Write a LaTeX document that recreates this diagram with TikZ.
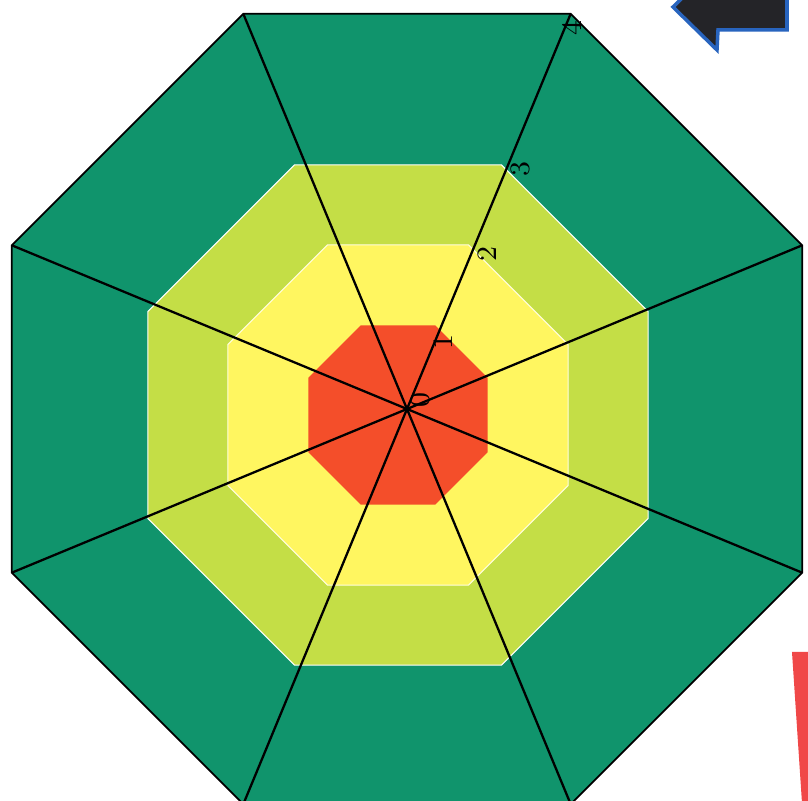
\documentclass[tikz,border=0pt]{standalone}
\usetikzlibrary{shapes.geometric}
\definecolor{deepgreen}{RGB}{16,148,108}
\definecolor{limeband}{RGB}{196,222,70}
\definecolor{lightyellow}{RGB}{255,246,96}
\definecolor{coreorange}{RGB}{244,78,42}
\definecolor{arrowblue}{RGB}{40,100,190}
\definecolor{arrowdark}{RGB}{36,36,40}
\definecolor{barred}{RGB}{240,72,72}
\begin{document}
\begin{tikzpicture}[
    x=0.01cm, y=-0.01cm,
    font=\footnotesize,
    ring/.style={regular polygon, regular polygon sides=8, inner sep=0pt, outer sep=0pt},
    numlabel/.style={rotate=90, inner sep=0pt}
]
\useasboundingbox (0,0) rectangle (808,801);
\clip (0,0) rectangle (808,801);
% octagon bands
\node[ring, draw=black, line width=0.5pt, fill=deepgreen, minimum size=8.55cm] (outer) at (407,409) {};
\node[ring, draw=white, line width=0.3pt, fill=limeband, minimum size=5.41cm] (band3) at (398,415) {};
\node[ring, draw=white!80!lightyellow, line width=0.3pt, fill=lightyellow, minimum size=3.68cm] (band2) at (398,415) {};
\node[ring, fill=coreorange, minimum size=1.94cm] (band1) at (398,415) {};
% spokes
\foreach \i in {1,...,4} {
    \pgfmathtruncatemacro{\j}{\i+4}
    \draw[line width=0.65pt] (outer.corner \i) -- (outer.corner \j);
}
% scale
\node[numlabel] (l0) at (420,400) {0};
\node[numlabel] (l1) at (443,342) {1};
\node[numlabel] (l2) at (487,254) {2};
\node[numlabel] (l3) at (520,169) {3};
\node[numlabel] (l4) at (572,28) {4};
% pieces at the page edge
\draw[arrowblue, line width=1pt, fill=arrowdark]
    (673,7) -- (717,50) -- (718,30) -- (787,30) -- (787,-40) -- (718,-40) -- (717,-36) -- cycle;
\fill[barred] (792,652) -- (810,652) -- (810,803) -- (802,803) -- cycle;
\end{tikzpicture}
\end{document}
